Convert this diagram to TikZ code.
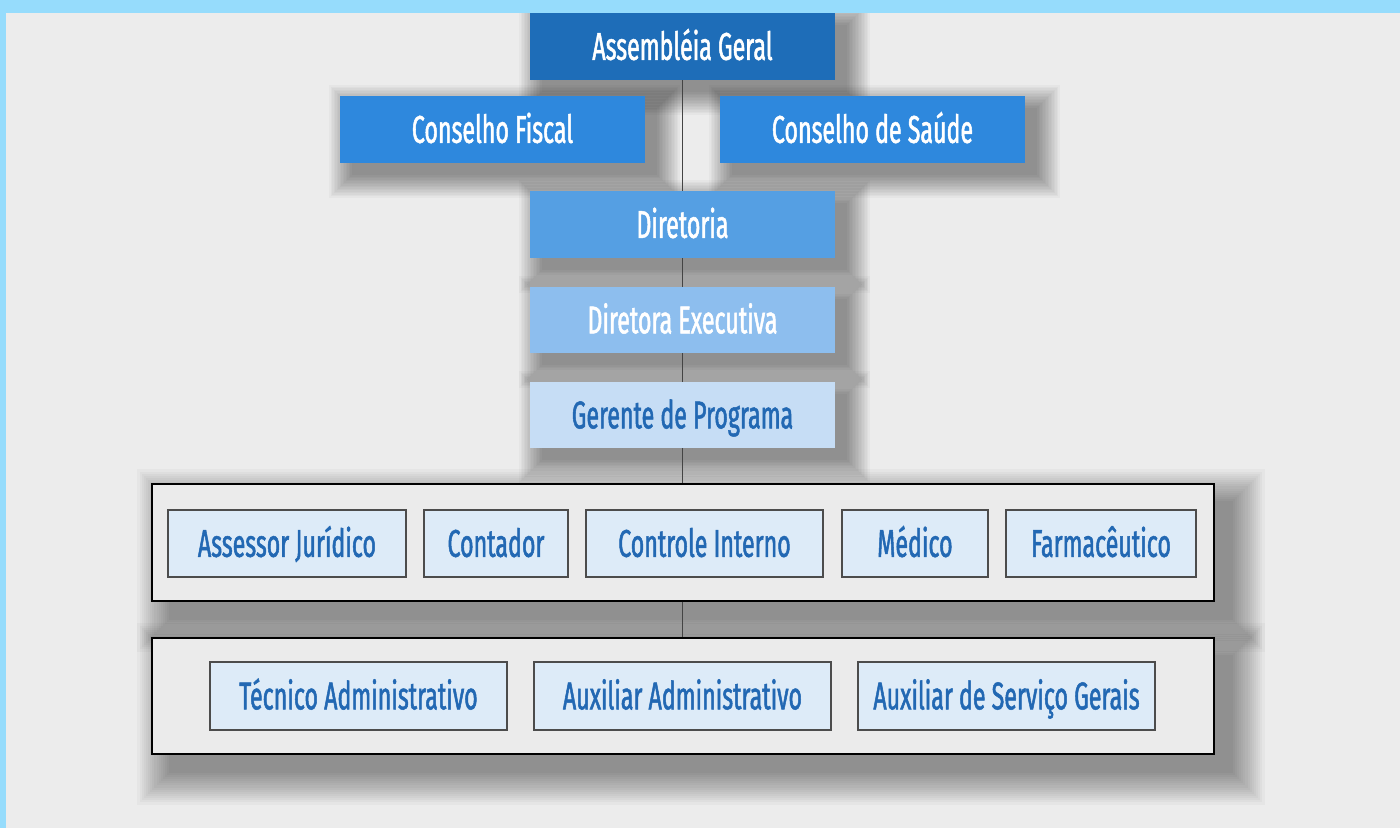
\documentclass[tikz,border=0pt]{standalone}
\usepackage{fontspec}
\setmainfont{Fira Sans}[FakeStretch=0.6, FakeBold=1.3]
\usetikzlibrary{backgrounds}
\definecolor{band}{HTML}{96DCFC}
\definecolor{bg}{HTML}{ECECEC}
\definecolor{agc}{HTML}{1E6DB8}
\definecolor{cfc}{HTML}{2E88DD}
\definecolor{dirc}{HTML}{559FE3}
\definecolor{dec}{HTML}{8DBEEE}
\definecolor{gpc}{HTML}{C6DDF5}
\definecolor{innerc}{HTML}{DDEBF8}
\definecolor{contc}{HTML}{EBEBEB}
\definecolor{txtblue}{HTML}{2268B3}
\definecolor{linec}{HTML}{444444}
\tikzset{
  orgtxt/.style={font=\fontsize{29}{30}\selectfont, text height=20pt, text depth=0pt},
  topbox/.style={rectangle, inner sep=0pt, orgtxt, text=white, minimum width=228.75pt, minimum height=50.25pt},
  contbox/.style={rectangle, inner sep=0pt, draw=black, line width=1.1pt, fill=contc, minimum width=796.5pt},
  innerbox/.style={rectangle, inner sep=0pt, orgtxt, text=txtblue, draw=black!70, line width=1pt, fill=innerc, minimum height=50.25pt},
  vline/.style={draw=linec, line width=1pt},
  shadowlayer/.style={fill=black, opacity=0.028}
}
\newcommand\mydropshadow[3]{%
  \foreach \i in {1,...,16}{%
    \pgfmathsetmacro\e{#3*(1-\i/16)}%
    \fill[shadowlayer] ([shift={(#2-\e,#2-\e)}]#1.north west) rectangle ([shift={(#2+\e,#2+\e)}]#1.south east);
  }}
\begin{document}
\begin{tikzpicture}[x=0.75pt,y=-0.75pt]
\useasboundingbox (0,0) rectangle (1400,828);
% containers
\node[contbox, minimum height=87.75pt] (c1) at (683,542.5) {};
\node[contbox, minimum height=87pt] (c2) at (683,696) {};
% top boxes
\node[topbox, fill=agc] (ag) at (682.5,46.5) {Assembléia Geral};
\node[topbox, fill=cfc] (cf) at (492.5,129.5) {Conselho Fiscal};
\node[topbox, fill=cfc] (cs) at (872.5,129.5) {Conselho de Saúde};
\node[topbox, fill=dirc] (dir) at (682.5,224.5) {Diretoria};
\node[topbox, fill=dec, minimum height=49.5pt] (de) at (682.5,320) {Diretora Executiva};
\node[topbox, fill=gpc, text=txtblue, minimum height=49.5pt] (gp) at (682.5,415) {Gerente de Programa};
% row 1
\node[innerbox, minimum width=178.5pt] (aj) at (287,543.5) {Assessor Jurídico};
\node[innerbox, minimum width=108pt] (ct) at (496,543.5) {Contador};
\node[innerbox, minimum width=177.75pt] (ci) at (704.5,543.5) {Controle Interno};
\node[innerbox, minimum width=109.5pt] (md) at (915,543.5) {Médico};
\node[innerbox, minimum width=142.5pt] (fm) at (1101,543.5) {Farmacêutico};
% row 2
\node[innerbox, minimum width=222.75pt, minimum height=51pt] (ta) at (358.5,696) {Técnico Administrativo};
\node[innerbox, minimum width=222.75pt, minimum height=51pt] (aa) at (682.5,696) {Auxiliar Administrativo};
\node[innerbox, minimum width=222.75pt, minimum height=51pt] (as) at (1006.5,696) {Auxiliar de Serviço Gerais};
% background and shadows
\begin{pgfonlayer}{background}
\fill[bg] (0,0) rectangle (1400,828);
\mydropshadow{c1}{18}{34}
\mydropshadow{c2}{18}{34}
\mydropshadow{ag}{12}{24}
\mydropshadow{cf}{12}{24}
\mydropshadow{cs}{12}{24}
\mydropshadow{dir}{12}{24}
\mydropshadow{de}{12}{24}
\mydropshadow{gp}{12}{24}
\end{pgfonlayer}
% connectors
\draw[vline] (ag.south) -- (dir.north);
\draw[vline] (dir.south) -- (de.north);
\draw[vline] (de.south) -- (gp.north);
\draw[vline] (gp.south) -- (gp.south |- c1.north);
\draw[vline] (gp.south |- c1.south) -- (gp.south |- c2.north);
% frame band
\fill[band] (0,0) rectangle (1400,13);
\fill[band] (0,0) rectangle (6,828);
\end{tikzpicture}
\end{document}
